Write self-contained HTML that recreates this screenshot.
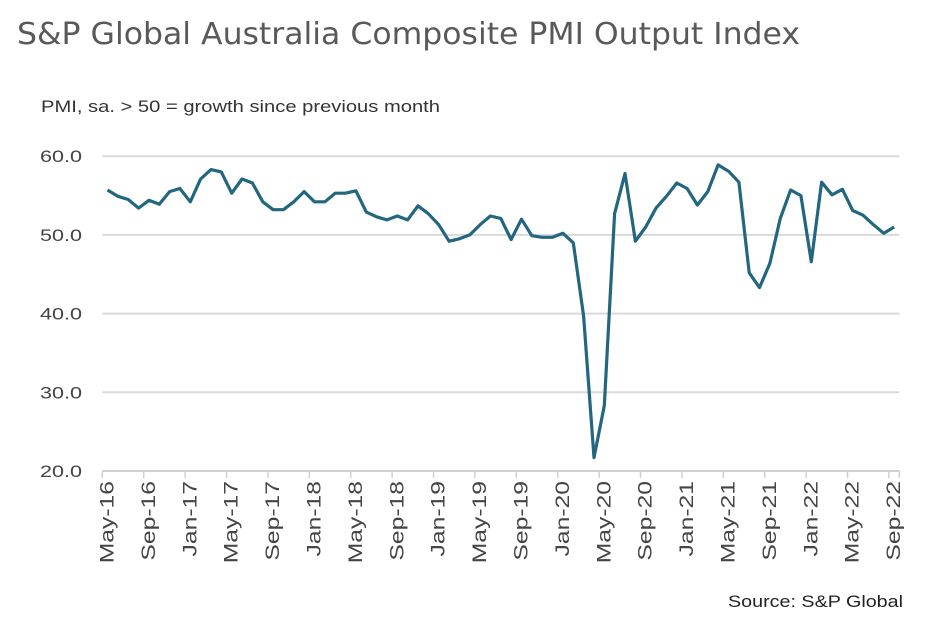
<!DOCTYPE html>
<html><head><meta charset="utf-8">
<style>
body{margin:0;background:#fff;width:936px;height:628px;overflow:hidden;font-family:"Liberation Sans",sans-serif;}
svg{display:block}
</style></head>
<body>
<svg width="936" height="628" viewBox="0 0 936 628">
<text x="17" y="44" font-size="30" fill="#595959" font-family="DejaVu Sans, Liberation Sans, sans-serif" textLength="783" lengthAdjust="spacingAndGlyphs">S&amp;P Global Australia Composite PMI Output Index</text>
<text x="41" y="112" font-size="17" fill="#333" textLength="399" lengthAdjust="spacingAndGlyphs">PMI, sa. &gt; 50 = growth since previous month</text>
<g id="grid"></g>
<g id="xaxis"></g>
<g id="series"></g>
<text x="903" y="607" font-size="17" fill="#222" text-anchor="end" textLength="175" lengthAdjust="spacingAndGlyphs">Source: S&amp;P Global</text>
</svg>
<script>
const months = ["May","Jun","Jul","Aug","Sep","Oct","Nov","Dec","Jan","Feb","Mar","Apr"];
const startYear = 16;
const values = [55.7,54.9,54.5,53.4,54.4,53.9,55.5,55.9,54.2,57.1,58.3,58.0,55.3,57.1,56.6,54.2,53.2,53.2,54.2,55.5,54.2,54.2,55.3,55.3,55.6,52.9,52.3,51.9,52.4,51.9,53.7,52.7,51.3,49.2,49.5,50.0,51.3,52.4,52.1,49.4,52.0,49.9,49.7,49.7,50.2,49.0,39.7,21.7,28.3,52.7,57.8,49.2,51.0,53.4,54.9,56.6,55.9,53.8,55.5,58.9,58.1,56.7,45.2,43.3,46.4,52.1,55.7,55.0,46.6,56.7,55.1,55.8,53.1,52.5,51.3,50.2,51.0];
const yTicks = [20,30,40,50,60];
const yTickLabels = ["20.0","30.0","40.0","50.0","60.0"];
const NS="http://www.w3.org/2000/svg";
const x0=107.5, dx=10.35, yBase=471, yScale=7.87;
function xs(i){return x0+i*dx;}
function ys(v){return yBase-(v-20)*yScale;}
function mk(tag,attrs,parent){const e=document.createElementNS(NS,tag);for(const k in attrs)e.setAttribute(k,attrs[k]);parent.appendChild(e);return e;}
const grid=document.getElementById('grid');
yTicks.forEach((t,k)=>{
  if(t>20){const l=mk('line',{x1:xs(-0.5),x2:xs(values.length-0.5),y1:ys(t),y2:ys(t),stroke:'#d9d9d9','stroke-width':2},grid);
  
  }
  const tx=mk('text',{x:82,y:ys(t)+6,'font-size':17,fill:'#444','text-anchor':'end',textLength:42,lengthAdjust:'spacingAndGlyphs'},grid);
  tx.textContent=yTickLabels[k];
  
  
});
const xa=document.getElementById('xaxis');
const ax=mk('line',{x1:xs(-0.5),x2:xs(values.length-0.5),y1:yBase,y2:yBase,stroke:'#d0d0d0','stroke-width':2},xa);


for(let i=0;i<values.length;i+=4){
  const tk=mk('line',{x1:xs(i-0.5),x2:xs(i-0.5),y1:yBase,y2:yBase+7,stroke:'#d0d0d0','stroke-width':1.5},xa);
  
  
  const m=months[i%12];const yr=startYear+Math.floor((i+4)/12);
  const cx=xs(i)+6;
  const t=mk('text',{x:0,y:0,'font-size':19,fill:'#444','text-anchor':'end',transform:`translate(${cx},481) rotate(-90) scale(1.3,1)`},xa);
  t.textContent=m+'-'+yr;
  
  
}
const tkEnd=mk('line',{x1:xs(values.length-0.5),x2:xs(values.length-0.5),y1:yBase,y2:yBase+7,stroke:'#d0d0d0','stroke-width':1.5},xa);


const pts=values.map((v,i)=>xs(i).toFixed(1)+','+ys(v).toFixed(1)).join(' ');
const pl=mk('polyline',{points:pts,fill:'none',stroke:'#22667f','stroke-width':3.2,'stroke-linejoin':'round'},document.getElementById('series'));


</script>
</body></html>
